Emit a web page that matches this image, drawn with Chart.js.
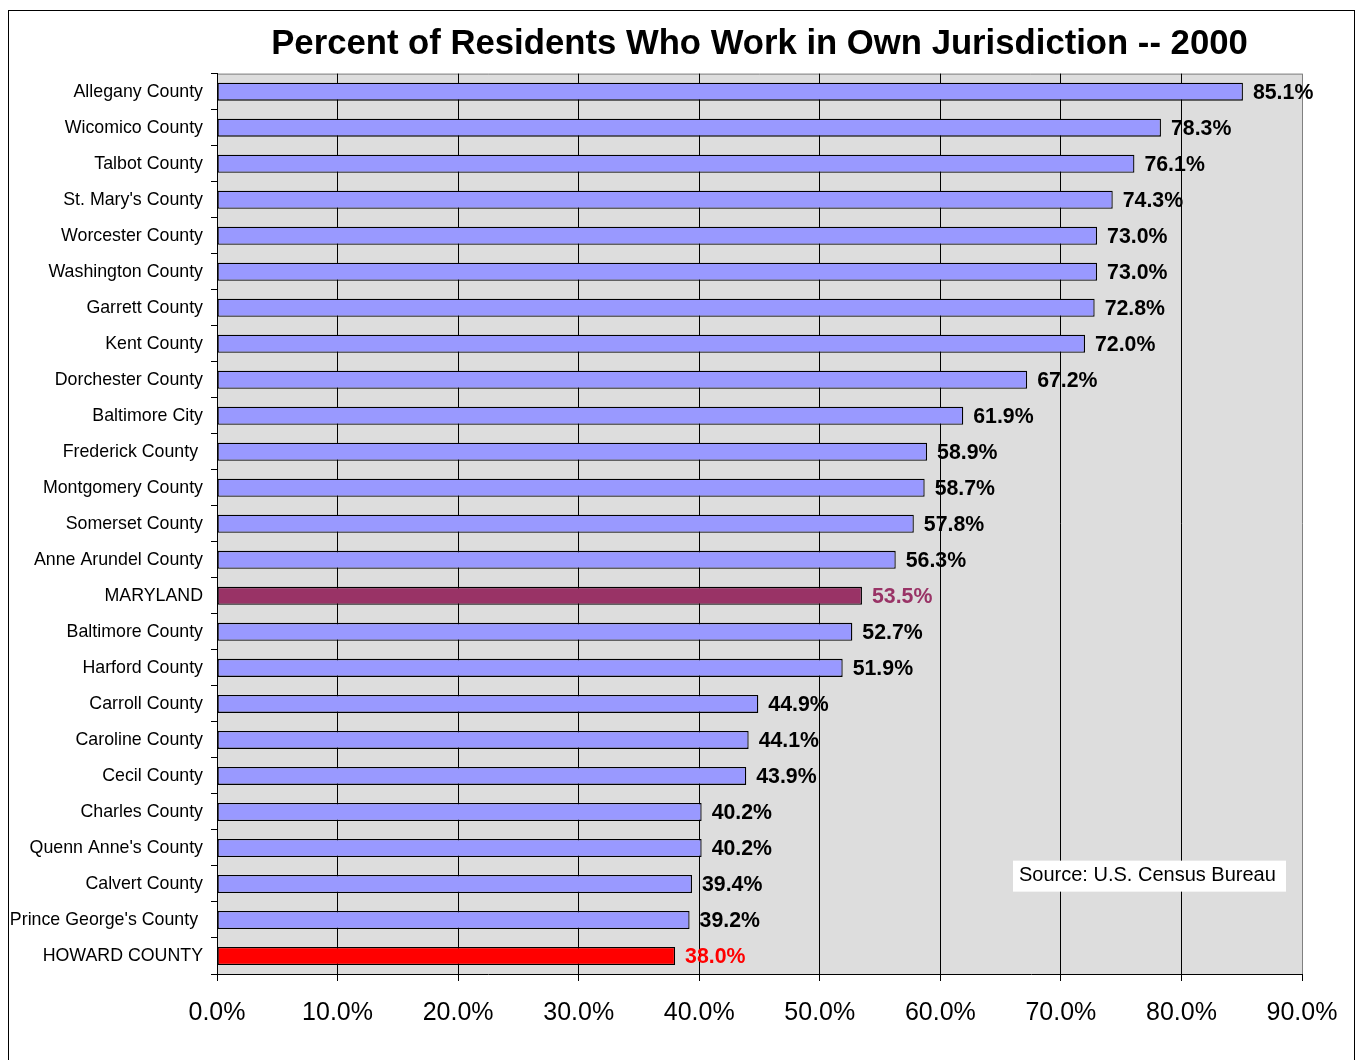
<!DOCTYPE html>
<html lang="en">
<head>
<meta charset="utf-8">
<title>Percent of Residents Who Work in Own Jurisdiction -- 2000</title>
<script src="https://cdn.jsdelivr.net/npm/chart.js@4.4.0/dist/chart.umd.min.js"></script>
<style>
  body { margin: 0; background: #fff; }
</style>
</head>
<body>
<canvas id="myChart" width="1358" height="1060"></canvas>
<script>
// values
var counties = [
    "Allegany County", "Wicomico County", "Talbot County", "St. Mary's County",
    "Worcester County", "Washington County", "Garrett County", "Kent County",
    "Dorchester County", "Baltimore City", "Frederick County ", "Montgomery County",
    "Somerset County", "Anne Arundel County", "MARYLAND", "Baltimore County",
    "Harford County", "Carroll County", "Caroline County", "Cecil County",
    "Charles County", "Quenn Anne's County", "Calvert County", "Prince George's County ",
    "HOWARD COUNTY"
];
var percents = [
    85.1, 78.3, 76.1, 74.3, 73.0, 73.0, 72.8, 72.0, 67.2, 61.9,
    58.9, 58.7, 57.8, 56.3, 53.5, 52.7, 51.9, 44.9, 44.1, 43.9,
    40.2, 40.2, 39.4, 39.2, 38.0
];
var xTicks = [0, 10, 20, 30, 40, 50, 60, 70, 80, 90];
var stateName = "MARYLAND";
var homeName = "HOWARD COUNTY";
var sourceNote = "Source: U.S. Census Bureau";

var FONT = "'Liberation Sans', Arial, sans-serif";

function fillFor(name) {
    if (name === stateName) return "#993366";
    if (name === homeName) return "#ff0000";
    return "#9999ff";
}
function textFor(name) {
    if (name === stateName) return "#993366";
    if (name === homeName) return "#ff0000";
    return "#000000";
}

var framePlugin = {
    id: 'frame',
    beforeDraw: function (chart) {
        var ctx = chart.ctx, a = chart.chartArea;
        ctx.save();
        ctx.fillStyle = '#ffffff';
        ctx.fillRect(0, 0, chart.width, chart.height);
        ctx.strokeStyle = '#000000';
        ctx.lineWidth = 1;
        ctx.strokeRect(8.5, 10.5, 1346, 1200);
        ctx.fillStyle = '#dddddd';
        ctx.fillRect(a.left, a.top, a.right - a.left, a.bottom - a.top);
        ctx.strokeStyle = '#808080';
        ctx.beginPath();
        ctx.moveTo(a.left, a.top + 0.5);
        ctx.lineTo(a.right, a.top + 0.5);
        ctx.stroke();
        ctx.restore();
    },
    afterDatasetsDraw: function (chart) {
        var ctx = chart.ctx;
        var meta = chart.getDatasetMeta(0);
        ctx.save();
        ctx.font = "bold 21.3px " + FONT;
        ctx.textAlign = 'left';
        ctx.textBaseline = 'middle';
        meta.data.forEach(function (bar, i) {
            ctx.fillStyle = textFor(counties[i]);
            ctx.fillText(percents[i].toFixed(1) + '%', bar.x + 10, bar.y + 1);
        });
        ctx.restore();
    },
    afterDraw: function (chart) {
        var ctx = chart.ctx, a = chart.chartArea;
        ctx.save();
        ctx.fillStyle = '#ffffff';
        ctx.fillRect(a.right - 289, a.top + 787, 273, 31);
        ctx.fillStyle = '#000000';
        ctx.font = "20px " + FONT;
        ctx.textBaseline = 'middle';
        ctx.fillText(sourceNote, a.right - 283, a.top + 802);
        ctx.restore();
    }
};

var ctx = document.getElementById("myChart").getContext("2d");

var myChart = new Chart(ctx, {
    type: 'bar',
    data: {
        labels: counties,
        datasets: [{
            data: percents,
            backgroundColor: counties.map(fillFor),
            borderColor: "#000000",
            borderWidth: 1.3,
            borderSkipped: false,
            categoryPercentage: 1.0,
            barPercentage: 0.5
        }]
    },
    options: {
        indexAxis: 'y',
        responsive: false,
        animation: false,
        devicePixelRatio: 1,
        layout: { padding: { top: 10, right: 56, bottom: 0, left: 0 } },
        plugins: {
            legend: { display: false },
            tooltip: { enabled: false },
            title: {
                display: true,
                fullSize: false,
                text: "Percent of Residents Who Work in Own Jurisdiction -- 2000",
                color: '#000000',
                font: { family: FONT, size: 34.7, weight: 'bold', lineHeight: 1.2 },
                padding: { top: 14, bottom: 8 }
            }
        },
        scales: {
            x: {
                min: 0,
                max: 90,
                afterBuildTicks: function (scale) {
                    scale.ticks = xTicks.map(function (v) { return { value: v }; });
                },
                afterFit: function (scale) { scale.height = 86; },
                border: { display: true, color: '#000000', width: 1 },
                grid: {
                    color: function (c) { return c.tick && c.tick.value === 90 ? '#808080' : '#000000'; },
                    lineWidth: 1,
                    drawTicks: true,
                    tickLength: 7,
                    tickColor: '#000000'
                },
                ticks: {
                    color: '#000000',
                    font: { family: FONT, size: 25 },
                    padding: 17,
                    maxRotation: 0,
                    callback: function (v) { return Number(v).toFixed(1) + '%'; }
                }
            },
            y: {
                afterFit: function (scale) { scale.width = 217; },
                border: { display: true, color: '#000000', width: 1 },
                grid: {
                    offset: true,
                    drawOnChartArea: false,
                    drawTicks: true,
                    tickLength: 6,
                    color: '#000000'
                },
                ticks: {
                    color: '#000000',
                    font: { family: FONT, size: 17.8 },
                    padding: 8,
                    autoSkip: false
                }
            }
        }
    },
    plugins: [framePlugin]
});
</script>
</body>
</html>
